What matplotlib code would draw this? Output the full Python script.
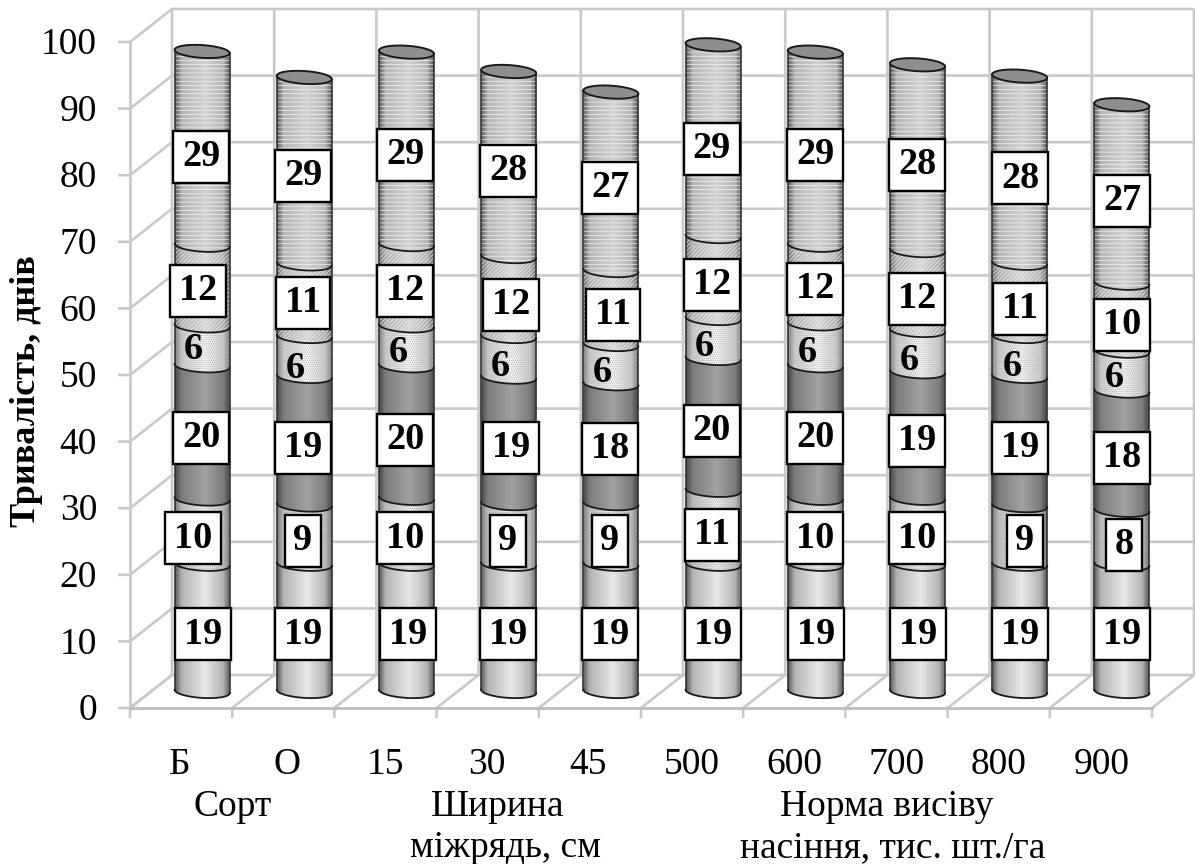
import numpy as np
import matplotlib
matplotlib.use("Agg")
import matplotlib.pyplot as plt
from matplotlib.patches import PathPatch, Polygon
from matplotlib.path import Path
from matplotlib.colors import LinearSegmentedColormap

# Segment heights (bottom to top)
stage_1 = [19.1, 19.1, 19.1, 19.1, 19.1, 19.1, 19.1, 19.1, 19.1, 19.1]
stage_2 = [9.8, 8.9, 9.9, 9.1, 9.1, 11.1, 9.9, 9.9, 8.8, 8.1]
stage_3 = [20.0, 19.3, 19.9, 19.0, 18.0, 19.8, 19.9, 19.0, 19.4, 17.9]
stage_4 = [6.0, 6.0, 6.0, 6.1, 5.9, 6.0, 6.3, 6.2, 6.0, 6.0]
stage_5 = [12.1, 10.9, 12.2, 12.0, 11.1, 12.3, 11.8, 12.0, 11.0, 10.2]
stage_6 = [29.1, 28.0, 28.9, 27.8, 26.8, 28.8, 29.0, 27.9, 28.1, 26.8]

# Printed labels
labels_1 = [19, 19, 19, 19, 19, 19, 19, 19, 19, 19]
labels_2 = [10, 9, 10, 9, 9, 11, 10, 10, 9, 8]
labels_3 = [20, 19, 20, 19, 18, 20, 20, 19, 19, 18]
labels_4 = [6, 6, 6, 6, 6, 6, 6, 6, 6, 6]
labels_5 = [12, 11, 12, 12, 11, 12, 12, 12, 11, 10]
labels_6 = [29, 29, 29, 28, 27, 29, 29, 28, 28, 27]

categories = ["Б", "О", "15", "30", "45", "500", "600", "700", "800", "900"]
y_ticks = [0, 10, 20, 30, 40, 50, 60, 70, 80, 90, 100]

FONT = "Liberation Serif"
W, H = 1195, 864
X0, CAT_W = 130.0, 102.2      # front axis origin and category width, px
Y0, UNIT = 708.0, 6.66        # front zero and px per value unit
DX, DY = 42 / CAT_W, 33 / UNIT  # depth of the box in data units
GRID = "#c9c9c9"

# Label centres in picture pixels, moved by hand in the source chart
lab_x = [
    [203, 303, 408, 508, 610, 713, 816, 918, 1020, 1122],
    [193, 303, 405, 508, 610, 712, 815, 917, 1025, 1124],
    [201, 303, 405, 511, 610, 712, 815, 917, 1020, 1122],
    [193, 295, 398, 500, 602, 704, 807, 909, 1012, 1114],
    [198, 303, 405, 511, 613, 712, 815, 917, 1020, 1122],
    [201, 303, 405, 508, 610, 712, 815, 917, 1020, 1122],
]
lab_y = [
    [634, 634, 634, 634, 634, 634, 634, 634, 634, 634],
    [538, 541, 538, 541, 541, 535, 538, 538, 541, 545],
    [438, 448, 440, 448, 449, 431, 438, 441, 448, 458],
    [350, 368, 353, 366, 373, 347, 353, 361, 367, 378],
    [291, 303, 291, 305, 315, 285, 289, 299, 309, 325],
    [157, 176, 155, 171, 188, 149, 155, 165, 178, 201],
]

plt.rcParams["font.family"] = [FONT, "DejaVu Sans"]
plt.rcParams["hatch.linewidth"] = 0.45

fig = plt.figure(figsize=(W / 100, H / 100), dpi=100)
ax = fig.add_axes([0, 0, 1, 1])
xlim = (-X0 / CAT_W, (W - X0) / CAT_W)
ylim = ((Y0 - H) / UNIT, Y0 / UNIT)
ax.axis("off")


def px(x, y):
    return (x - X0) / CAT_W, (Y0 - y) / UNIT


# walls and floor
n = len(categories)
for t in y_ticks:
    ax.plot([-0.117, 0, DX, n + DX], [t, t, t + DY, t + DY], color=GRID, lw=1.9, zorder=1,
            solid_capstyle="butt")
for i in range(n + 1):
    ax.plot([i, i, i + DX, i + DX], [-1.5, 0, DY, 100 + DY], color=GRID, lw=1.9, zorder=1,
            solid_capstyle="butt")
ax.plot([0, 0], [0, 100], color=GRID, lw=1.9, zorder=1)
ax.plot([0, n], [0, 0], color="#bdbdbd", lw=2.0, zorder=1)


def shade(edge, side, mid):
    stops = [(0, edge), (0.12, side), (0.55, mid), (0.88, side), (1, edge)]
    return LinearSegmentedColormap.from_list("s", stops, N=128)


grad = np.linspace(0, 1, 128).reshape(1, -1)
styles = [
    (shade("#5a5a5a", "#b4b4b4", "#e8e8e8"), None, None),
    (shade("#707070", "#c0c0c0", "#f0f0f0"), "........", "#a4a4a4"),
    (shade("#484848", "#7c7c7c", "#a2a2a2"), None, None),
    (shade("#777777", "#cccccc", "#f6f6f6"), "........", "#b0b0b0"),
    (shade("#666666", "#b0b0b0", "#d6d6d6"), "////////", "#f2f2f2"),
    (shade("#5a5a5a", "#b6b6b6", "#d2d2d2"), "----", "#f6f6f6"),
]

A = 27.5 / CAT_W   # half width of a cylinder
B = 6.4 / UNIT     # half height of the ellipse
TILT = 1.7 / UNIT  # rim rises to the right
ts = np.linspace(np.pi, 2 * np.pi, 60)


def front_arc(cx, v):
    return cx + A * np.cos(ts), v + B * np.sin(ts) - TILT * np.cos(ts)


segments = [stage_1, stage_2, stage_3, stage_4, stage_5, stage_6]
for i in range(n):
    cx = i + 0.5 + DX / 2
    base = DY / 2
    for seg, (cmap, hatch, hcolor) in zip(segments, styles):
        top = base + seg[i]
        xb, yb = front_arc(cx, base)
        xt, yt = front_arc(cx, top)
        verts = np.r_[np.c_[xb, yb], np.c_[xt[::-1], yt[::-1]], [[xb[0], yb[0]]]]
        path = Path(verts, closed=False)
        clip = PathPatch(path, fc="none", ec="none", transform=ax.transData)
        ax.add_patch(clip)
        im = ax.imshow(grad, extent=(cx - A, cx + A, base - 2, top + 2), cmap=cmap, vmin=0, vmax=1,
                       aspect="auto", zorder=3, interpolation="bilinear")
        im.set_clip_path(clip)
        if hatch:
            ax.add_patch(PathPatch(path, fc="none", ec=hcolor, hatch=hatch, lw=0, zorder=3.1))
        ax.plot(xb, yb, color="#1a1a1a", lw=1.3, zorder=3.3)
        base = top
    # side edges and top cap
    ax.plot([cx - A, cx - A], [DY / 2 + TILT, base + TILT], color="#333333", lw=1.2, zorder=3.2)
    ax.plot([cx + A, cx + A], [DY / 2 - TILT, base - TILT], color="#333333", lw=1.2, zorder=3.2)
    tt = np.linspace(0, 2 * np.pi, 80)
    cap = Polygon(np.c_[cx + A * np.cos(tt), base + B * np.sin(tt) - TILT * np.cos(tt)], closed=True,
                  fc="#8e8e8e", ec="#1a1a1a", lw=1.4, zorder=3.4)
    ax.add_patch(cap)

# data labels
label_rows = [labels_1, labels_2, labels_3, labels_4, labels_5, labels_6]
for r, row in enumerate(label_rows):
    for i, val in enumerate(row):
        x, y = px(lab_x[r][i], lab_y[r][i])
        box = None
        if r != 3:
            box = dict(boxstyle="square,pad=0.23", fc="white", ec="black", lw=1.7)
        ax.text(x, y, str(val), ha="center", va="center", fontsize=27.5, fontweight="bold",
                bbox=box, zorder=5)

# tick labels
for t in y_ticks:
    x, y = px(97, Y0 - t * UNIT + 3)
    ax.text(x, y, str(t), ha="right", va="center", fontsize=27)

cat_px = [180, 287, 385, 487, 588, 692, 794, 897, 999, 1102]
for name, p in zip(categories, cat_px):
    x, y = px(p, 765)
    ax.text(x, y, name, ha="center", va="center", fontsize=27)

groups = [("Сорт", 233, 807), ("Ширина", 498, 807), ("міжрядь, см", 505, 848),
          ("Норма висіву", 887, 807), ("насіння, тис. шт./га", 893, 848)]
for name, p, q in groups:
    x, y = px(p, q)
    ax.text(x, y, name, ha="center", va="center", fontsize=27)

x, y = px(27, 391)
ax.text(x, y, "Тривалість, днів", rotation=90, ha="center", va="center", fontsize=26, fontweight="bold")

ax.set_xlim(xlim)
ax.set_ylim(ylim)
fig.savefig("out.png", dpi=100)
